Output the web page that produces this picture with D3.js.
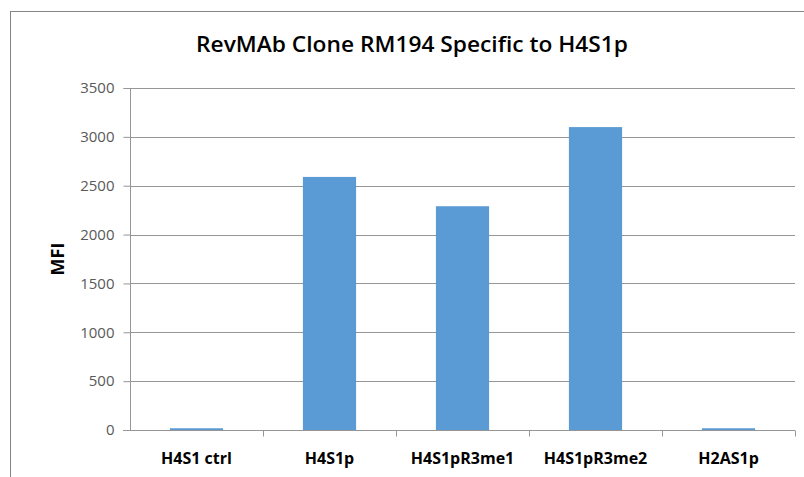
<!DOCTYPE html>
<html>
<head>
<meta charset="utf-8">
<script src="https://cdn.jsdelivr.net/npm/d3@7"></script>
<style>
  body { margin: 0; background: #fff; }
  text { font-family: "Open Sans", "Liberation Sans", sans-serif; }
</style>
</head>
<body>
<div id="chart"></div>
<script>
// data
const categories = ["H4S1 ctrl", "H4S1p", "H4S1pR3me1", "H4S1pR3me2", "H2AS1p"];
const mfiValues = [18, 2590, 2290, 3100, 18];
const yTicks = [0, 500, 1000, 1500, 2000, 2500, 3000, 3500];

const width = 804, height = 477;
const margins = { top: 88, right: 9, bottom: 47, left: 130 };
const graphWidth = width - margins.left - margins.right;
const graphHeight = height - margins.top - margins.bottom;

const svg = d3.select("#chart").append("svg")
  .attr("width", width)
  .attr("height", height);

// outer chart frame (cut off at right and bottom)
svg.append("rect")
  .attr("x", 10.5).attr("y", 11.5)
  .attr("width", 820).attr("height", 500)
  .attr("fill", "none")
  .attr("stroke", "#868686")
  .attr("stroke-width", 1);

svg.append("text")
  .attr("x", 412).attr("y", 52)
  .attr("text-anchor", "middle")
  .attr("font-size", 22)
  .attr("font-weight", 600)
  .attr("textLength", 432)
  .attr("lengthAdjust", "spacingAndGlyphs")
  .attr("fill", "#000")
  .text("RevMAb Clone  RM194 Specific to H4S1p");

const graph = svg.append("g")
  .attr("transform", `translate(${margins.left},${margins.top})`);

const x = d3.scaleBand().domain(categories).range([0, graphWidth]).paddingInner(0.6).paddingOuter(0.3);
const xTickScale = d3.scaleBand().domain(categories).range([0, graphWidth]);
const y = d3.scaleLinear().domain([0, 3500]).range([graphHeight, 0]);

// gridlines
graph.append("g")
  .selectAll("line")
  .data(yTicks.filter(d => d > 0))
  .join("line")
  .attr("x1", 0).attr("x2", graphWidth)
  .attr("y1", d => Math.round(y(d)) + 0.5)
  .attr("y2", d => Math.round(y(d)) + 0.5)
  .attr("stroke", "#969696")
  .attr("stroke-width", 1);

// bars
graph.selectAll("rect.bar")
  .data(mfiValues)
  .join("rect")
  .attr("class", "bar")
  .attr("x", (d, i) => x(categories[i]))
  .attr("y", d => y(d))
  .attr("width", x.bandwidth())
  .attr("height", d => graphHeight - y(d))
  .attr("fill", "#5B9BD5");

// y axis
const yAxis = d3.axisLeft(y).tickValues(yTicks).tickFormat(d3.format("d")).tickSize(7).tickPadding(9);
const yAxisGroup = graph.append("g")
  .attr("transform", "translate(0.5,0)")
  .call(yAxis);
yAxisGroup.select(".domain").attr("stroke", "#969696").attr("d", `M-7,0.5H0V${graphHeight}`);
yAxisGroup.selectAll(".tick line").attr("stroke", "#969696");
yAxisGroup.selectAll(".tick text")
  .attr("font-size", 15)
  .attr("fill", "#595959")
  .attr("font-family", "Open Sans, sans-serif");

// x axis
const xAxisGroup = graph.append("g")
  .attr("transform", `translate(0,${Math.round(graphHeight) + 0.5})`);
xAxisGroup.append("line")
  .attr("x1", -7).attr("x2", graphWidth)
  .attr("stroke", "#969696");
xAxisGroup.selectAll("line.tk")
  .data(categories)
  .join("line")
  .attr("class", "tk")
  .attr("x1", d => Math.round(xTickScale(d) + xTickScale.bandwidth()) + 0.5)
  .attr("x2", d => Math.round(xTickScale(d) + xTickScale.bandwidth()) + 0.5)
  .attr("y1", 0).attr("y2", 6)
  .attr("stroke", "#969696");
xAxisGroup.selectAll("text")
  .data(categories)
  .join("text")
  .attr("x", d => xTickScale(d) + xTickScale.bandwidth() / 2)
  .attr("y", 33)
  .attr("text-anchor", "middle")
  .attr("font-size", 16)
  .attr("font-weight", 700)
  .attr("fill", "#000")
  .text(d => d);

// y title
svg.append("text")
  .attr("transform", `translate(64,259) rotate(-90)`)
  .attr("text-anchor", "middle")
  .attr("font-size", 18)
  .attr("font-weight", 700)
  .attr("fill", "#000")
  .text("MFI");
</script>
</body>
</html>
